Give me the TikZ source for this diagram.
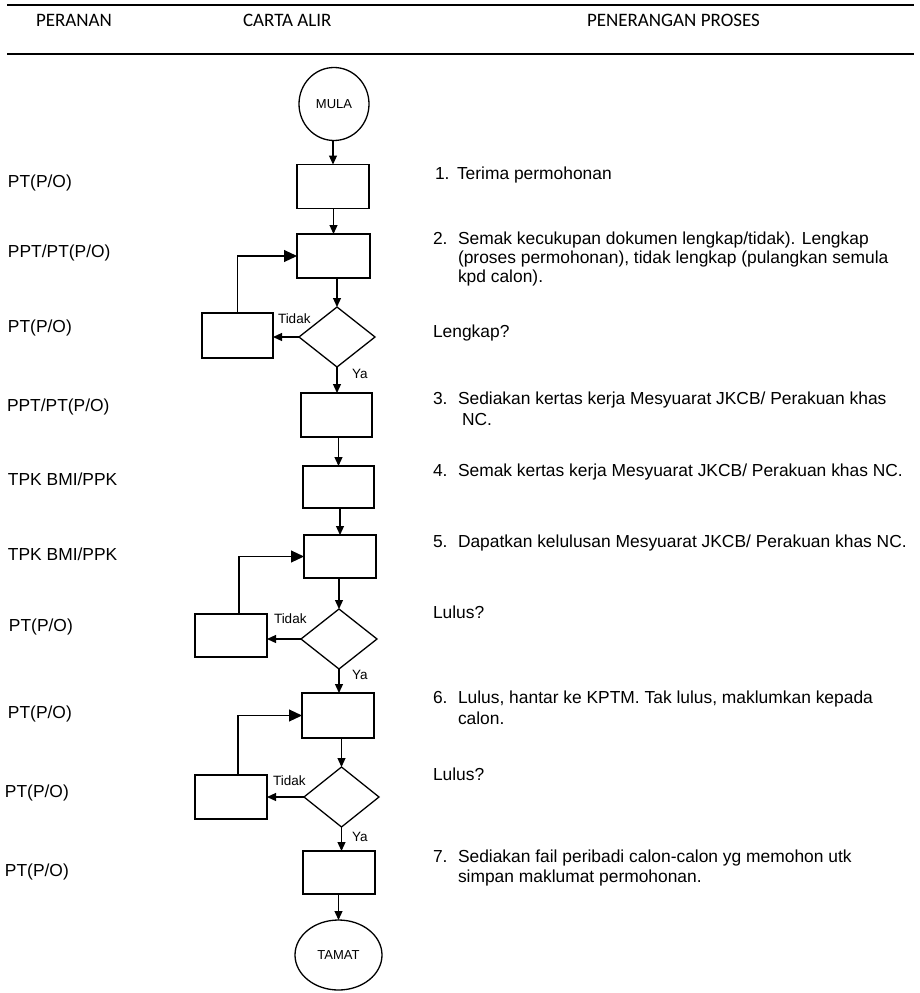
\documentclass[tikz,border=0pt]{standalone}
\usepackage{fontspec}
\setmainfont{Liberation Sans}
\newfontfamily\hdrfont{Carlito}
\usetikzlibrary{shapes.geometric,arrows.meta}

\begin{document}
\begin{tikzpicture}[x=1pt,y=-1pt,
  every node/.style={inner sep=0pt, outer sep=0pt},
  proc/.style={draw, line width=1.3pt, rectangle, minimum width=72, minimum height=44},
  decide/.style={draw, line width=1.3pt, diamond, minimum width=76, minimum height=60},
  terminal/.style={draw, line width=1.3pt, ellipse, minimum width=70, minimum height=73,
    font=\fontsize{13}{15}\selectfont},
  flow/.style={line width=1.2pt, -{Triangle[length=9pt,width=8pt]}},
  loopback/.style={line width=1.1pt, -{Triangle[length=13pt,width=12pt]}},
  role/.style={anchor=base west, font=\fontsize{17.4}{20.5}\selectfont},
  desc/.style={anchor=base west, font=\fontsize{17.4}{20.5}\selectfont},
  stepnum/.style={anchor=base west, font=\fontsize{17.4}{20.5}\selectfont},
  headtxt/.style={anchor=base west, font=\hdrfont\fontsize{19}{22}\selectfont},
  branchlbl/.style={anchor=base west, font=\fontsize{13.5}{15}\selectfont},
  headrule/.style={line width=1.6pt}
]
\useasboundingbox (0,0) rectangle (919,993);

% header band
\draw[headrule] (7,5) -- (914,5);
\draw[headrule] (7,54) -- (914,54);
\node[headtxt] (hRole)  at (36,26)  {PERANAN};
\node[headtxt] (hChart) at (243,26) {CARTA ALIR};
\node[headtxt] (hDesc)  at (587,26) {PENERANGAN PROSES};

% flow chart
\node[terminal] (start) at (334,104) {MULA};
\node[proc] (b1) at (333,186.5) {};
\node[proc, minimum width=73] (b2) at (333.5,256) {};
\node[decide] (d1) at (337,337) {};
\node[proc, minimum width=71, minimum height=45] (r1) at (237.5,335.5) {};
\node[proc, minimum width=71] (b3) at (336.5,415) {};
\node[proc, minimum width=71, minimum height=42] (b4) at (338.5,487) {};
\node[proc, minimum height=43] (b5) at (340,556.5) {};
\node[decide] (d2) at (339,639) {};
\node[proc, minimum height=43] (r2) at (231,635.5) {};
\node[proc, minimum height=45] (b6) at (338,715.5) {};
\node[decide, minimum width=75] (d3) at (341.5,797) {};
\node[proc] (r3) at (231,797) {};
\node[proc, minimum height=43] (b7) at (339,872.5) {};
\node[terminal, minimum width=87, minimum height=70] (stop) at (338.5,955) {TAMAT};

% main line
\draw[flow] (b1.north |- start.south) -- (b1.north);
\draw[flow] (b2.north |- b1.south) -- (b2.north);
\draw[flow] (d1.north |- b2.south) -- (d1.north);
\draw[flow] (d1.south) -- (d1.south |- b3.north);
\draw[flow] (b4.north |- b3.south) -- (b4.north);
\draw[flow] (b5.north |- b4.south) -- (b5.north);
\draw[flow] (d2.north |- b5.south) -- (d2.north);
\draw[flow] (d2.south) -- (d2.south |- b6.north);
\draw[flow] (d3.north |- b6.south) -- (d3.north);
\draw[flow] (d3.south) -- (d3.south |- b7.north);
\draw[flow] (stop.north |- b7.south) -- (stop.north);

% "Tidak" branches and their loops back
\draw[flow] (d1.west) -- (d1.west -| r1.east);
\draw[flow] (d2.west) -- (d2.west -| r2.east);
\draw[flow] (d3.west) -- (d3.west -| r3.east);
\draw[loopback] (r1.north) |- (b2.west);
\draw[loopback] ([xshift=8pt]r2.north) |- (b5.west);
\draw[loopback] ([xshift=7pt]r3.north) |- (b6.west);

\node[branchlbl] (t1) at (278,323) {Tidak};
\node[branchlbl] (y1) at (352,378) {Ya};
\node[branchlbl] (t2) at (274,623) {Tidak};
\node[branchlbl] (y2) at (352,679) {Ya};
\node[branchlbl] (t3) at (273,785) {Tidak};
\node[branchlbl] (y3) at (352,841) {Ya};

% roles
\node[role] (p1)  at (8,187) {PT(P/O)};
\node[role] (p2)  at (8,257) {PPT/PT(P/O)};
\node[role] (p3)  at (8,332) {PT(P/O)};
\node[role] (p4)  at (7,411) {PPT/PT(P/O)};
\node[role] (p5)  at (8,485) {TPK BMI/PPK};
\node[role] (p6)  at (8,560) {TPK BMI/PPK};
\node[role] (p7)  at (9,631) {PT(P/O)};
\node[role] (p8)  at (8,718) {PT(P/O)};
\node[role] (p9)  at (5,797) {PT(P/O)};
\node[role] (p10) at (5,876) {PT(P/O)};

% process descriptions
\node[stepnum] (n1) at (435,179) {1.};
\node[desc] (s1) at (457,179) {Terima permohonan};
\node[stepnum] (n2) at (433,244) {2.};
\node[desc] (s2a) at (458,244) {Semak kecukupan dokumen lengkap/tidak). Lengkap};
\node[desc] (s2b) at (458,263) {(proses permohonan), tidak lengkap (pulangkan semula};
\node[desc] (s2c) at (458,282) {kpd calon).};
\node[desc] (q1) at (433,337) {Lengkap?};
\node[stepnum] (n3) at (433,404) {3.};
\node[desc] (s3a) at (458,404) {Sediakan kertas kerja Mesyuarat JKCB/ Perakuan khas};
\node[desc] (s3b) at (462,425) {NC.};
\node[stepnum] (n4) at (433,476) {4.};
\node[desc] (s4) at (458,476) {Semak kertas kerja Mesyuarat JKCB/ Perakuan khas NC.};
\node[stepnum] (n5) at (433,547) {5.};
\node[desc] (s5) at (458,547) {Dapatkan kelulusan Mesyuarat JKCB/ Perakuan khas NC.};
\node[desc] (q2) at (433,618) {Lulus?};
\node[stepnum] (n6) at (433,703) {6.};
\node[desc] (s6a) at (458,703) {Lulus, hantar ke KPTM. Tak lulus, maklumkan kepada};
\node[desc] (s6b) at (458,724) {calon.};
\node[desc] (q3) at (433,780) {Lulus?};
\node[stepnum] (n7) at (433,862) {7.};
\node[desc] (s7a) at (458,862) {Sediakan fail peribadi calon-calon yg memohon utk};
\node[desc] (s7b) at (458,882) {simpan maklumat permohonan.};
\end{tikzpicture}
\end{document}
